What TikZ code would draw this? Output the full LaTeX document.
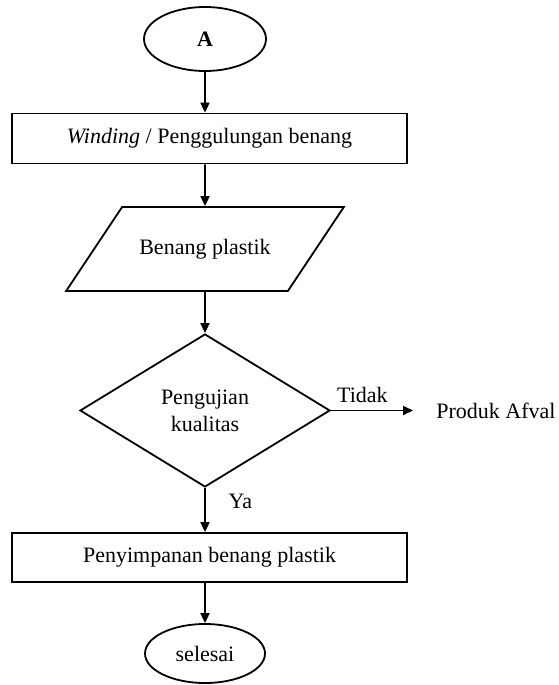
\documentclass[tikz,border=0pt]{standalone}
\usepackage{fontspec}
\setmainfont{Liberation Serif}
\usetikzlibrary{shapes,arrows.meta,positioning}

\begin{document}
\begin{tikzpicture}[
    x=0.5pt, y=-0.5pt,
    every node/.style={font=\fontsize{11}{13.5}\selectfont},
    term/.style={draw, ellipse, line width=0.9pt, inner sep=0pt},
    proc/.style={draw, rectangle, line width=0.9pt, minimum width=197.5pt, minimum height=25pt},
    io/.style={draw, trapezium, trapezium left angle=56.3, trapezium right angle=123.7,
               line width=0.9pt, inner xsep=8.6pt, inner ysep=16pt},
    decision/.style={draw, diamond, aspect=1.63, inner sep=0pt, line width=0.9pt,
                     minimum width=125pt, minimum height=76.5pt, align=center},
    arrow/.style={-{Triangle[length=5pt,width=4.5pt]}, line width=0.9pt}
]
    \useasboundingbox (0,0) rectangle (558,685);

    \node[term, minimum width=61pt, minimum height=32pt] (A) at (205,39) {\textbf{A}};
    \node[proc] (W) at (209.5,138.5) {\textit{Winding} / Penggulungan benang};
    \node[io] (B) at (205,249) {Benang plastik};
    \node[decision] (Q) at (205,410.5) {Pengujian\\kualitas};
    \node[inner sep=0pt, anchor=west] (PA) at (436,410.5) {Produk Afval};
    \node[proc, minimum height=24.5pt] (S) at (209.5,557.5) {Penyimpanan benang plastik};
    \node[term, minimum width=60pt, minimum height=29.5pt] (E) at (205,653.5) {selesai};

    \draw[arrow] (A) -- (A |- W.north);
    \draw[arrow] (W.south -| B) -- (B);
    \draw[arrow] (B) -- (Q);
    \draw[arrow, shorten >=11.5pt] (Q) -- node[above, pos=0.3] {Tidak} (PA);
    \draw[arrow] (Q) -- node[right=8pt, pos=0.3] {Ya} (Q |- S.north);
    \draw[arrow] (S.south -| E) -- (E);

\end{tikzpicture}
\end{document}
